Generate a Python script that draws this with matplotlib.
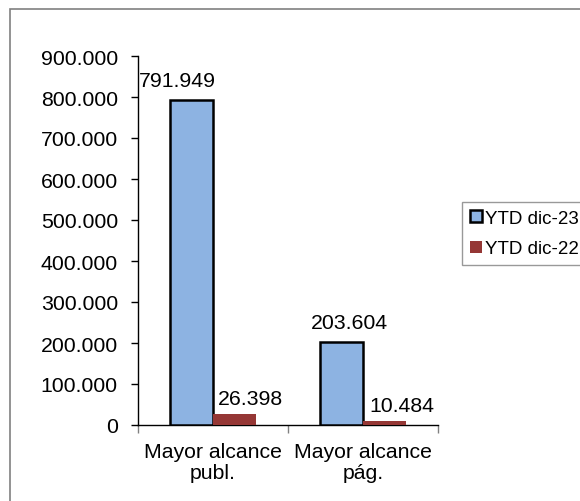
import matplotlib
matplotlib.use("Agg")
import matplotlib.pyplot as plt
from matplotlib.patches import Rectangle
from matplotlib.ticker import FuncFormatter

categories = ["Mayor alcance\npubl.", "Mayor alcance\npág."]
series_names = ["YTD dic-23", "YTD dic-22"]
ytd_dic23 = [791949, 203604]
ytd_dic22 = [26398, 10484]
yticks = [0, 100000, 200000, 300000, 400000, 500000, 600000, 700000, 800000, 900000]

plt.rcParams['font.family'] = ['Liberation Sans', 'DejaVu Sans']

W, H = 580, 502
fig = plt.figure(figsize=(W / 100, H / 100), dpi=100)

# outer chart-area border
fig.patches.append(Rectangle((10 / W, -0.05), 1.2, 1 - 10 / H + 0.05,
                             transform=fig.transFigure, fill=False,
                             edgecolor="#808080", linewidth=1.2))

ax = fig.add_axes([138 / W, 1 - 426 / H, 300 / W, 369 / H])

bw = 0.285
xs = list(range(len(categories)))
b1 = ax.bar([x - bw / 2 for x in xs], ytd_dic23, width=bw, color="#8DB3E2",
            edgecolor="black", linewidth=1.8, label=series_names[0], zorder=3)
b2 = ax.bar([x + bw / 2 for x in xs], ytd_dic22, width=bw, color="#953735",
            edgecolor="none", linewidth=0, label=series_names[1], zorder=3)

fmt = lambda v: f"{v:,.0f}".replace(",", ".")
offs1 = [(-14, 10), (8, 10)]
offs2 = [(16, 6), (17, 6)]
for rect, v, o in zip(b1, ytd_dic23, offs1):
    ax.annotate(fmt(v), (rect.get_x() + rect.get_width() / 2, v),
                xytext=o, textcoords="offset pixels", ha="center", va="bottom",
                fontsize=15.3)
for rect, v, o in zip(b2, ytd_dic22, offs2):
    ax.annotate(fmt(v), (rect.get_x() + rect.get_width() / 2, v),
                xytext=o, textcoords="offset pixels", ha="center", va="bottom",
                fontsize=15.3)

ax.set_xlim(-0.5, len(categories) - 0.5)
ax.set_ylim(0, 900000)
ax.set_yticks(yticks)
ax.yaxis.set_major_formatter(FuncFormatter(lambda v, p: fmt(v)))
ax.set_xticks([i - 0.5 for i in range(len(categories) + 1)])
ax.set_xticklabels([])
ax.set_xticks(xs, minor=True)
ax.set_xticklabels(categories, minor=True, fontsize=15.3, linespacing=1.15)
ax.tick_params(axis="x", which="minor", length=0, pad=12)
ax.tick_params(axis="x", which="major", length=6, direction="out", width=1, color="#808080")
ax.tick_params(axis="y", length=5, direction="out", width=1, labelsize=15.3, pad=9.5)

for s in ["top", "right"]:
    ax.spines[s].set_visible(False)
ax.spines["left"].set_linewidth(1.0)
ax.spines["bottom"].set_linewidth(1.0)

leg = ax.legend(loc="upper left", bbox_to_anchor=(462 / W, 1 - 203 / H),
                bbox_transform=fig.transFigure, fontsize=13.5, frameon=True,
                fancybox=False, edgecolor="#808080", handlelength=0.64,
                handleheight=0.64, handletextpad=0.18, borderpad=0.42,
                labelspacing=0.72, borderaxespad=0)
leg.get_frame().set_linewidth(1.0)

fig.savefig("out.png", dpi=100)
